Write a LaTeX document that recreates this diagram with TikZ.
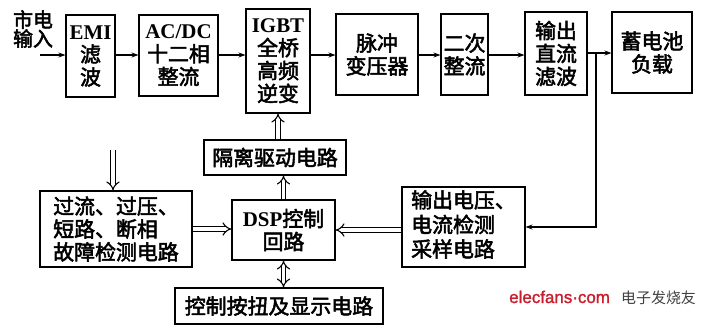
\documentclass[tikz,border=0pt]{standalone}
\usepackage{fontspec}
\setmainfont{Liberation Serif}
\newfontfamily\cjk[FakeBold=2.5]{Noto Sans CJK SC}
\newfontfamily\cjklight{Noto Sans CJK SC}
\newfontfamily\wmfont[FakeBold=1.5]{Liberation Sans}
\newcommand\enw[1]{{\rmfamily\bfseries #1}}
\usetikzlibrary{arrows.meta,calc}
\definecolor{wmred}{RGB}{200,30,45}
\begin{document}
\begin{tikzpicture}[x=1bp,y=-1bp,
  box/.style={draw, line width=1.1pt, align=center, inner sep=0pt,
    font=\cjk\fontsize{21}{23}\selectfont},
  lbl/.style={align=center, inner sep=0pt, font=\cjk\fontsize{20}{19}\selectfont},
  sarrow/.style={line width=1.1pt, -{Stealth[length=7bp,width=5bp]}},
  darrow/.style={draw, double=white, double distance=3.5bp, line width=1.1pt, -{Implies}},
  ddarrow/.style={draw, double=white, double distance=3.5bp, line width=1.1pt, {Implies}-{Implies}}]
\useasboundingbox (0,0) rectangle (713,331);

% top row
\node[lbl] (inlbl) at (33,29) {市电\\输入};
\node[box, minimum width=49bp, minimum height=82bp] (emi) at (90.5,56) {\enw{EMI}\\滤\\波};
\node[box, minimum width=79bp, minimum height=81bp] (acdc) at (178.5,55.5) {\enw{AC/DC}\\十二相\\整流};
\node[box, minimum width=64bp, minimum height=104bp] (igbt) at (278,61) {\enw{IGBT}\\全桥\\高频\\逆变};
\node[box, minimum width=82bp, minimum height=81bp] (pulse) at (377,54.5) {脉冲\\变压器};
\node[box, minimum width=47bp, minimum height=81bp] (sec) at (464.5,54.5) {二次\\整流};
\node[box, minimum width=62bp, minimum height=83bp] (filt) at (556,53.5) {输出\\直流\\滤波};
\node[box, minimum width=80bp, minimum height=81bp] (batt) at (652,52.5) {蓄电池\\负载};

% lower part
\node[box, minimum width=142bp, minimum height=35bp] (iso) at (275,157.5) {隔离驱动电路};
\node[box, minimum width=103bp, minimum height=60bp] (dsp) at (283.5,230) {\enw{DSP}控制\\回路};
\node[box, minimum width=152bp, minimum height=76bp] (fault) at (116,229) {过流、过压、\\短路、断相\hphantom{、}\\故障检测电路};
\node[box, minimum width=123bp, minimum height=80bp] (outs) at (463.5,227) {\begin{tabular}{@{}l@{}}输出电压、\\电流检测\\采样电路\end{tabular}};
\node[box, minimum width=208bp, minimum height=36bp] (ctrl) at (279,306) {控制按扭及显示电路};

% watermark
\node[anchor=base west, inner sep=0pt, text=wmred, font=\wmfont\fontsize{17}{17}\selectfont] (wm) at (509,303) {elecfans·com};
\node[anchor=base west, inner sep=0pt, text=black!75, font=\cjklight\fontsize{15}{15}\selectfont] (wm2) at (621,303) {电子发烧友};

% coordinates
\coordinate (in) at (40,55);
\coordinate (br) at (596,53);
\coordinate (ftop) at (113,150);

% single arrows
\draw[sarrow] (in) -- (in -| emi.west);
\draw[sarrow] (emi.east |- in) -- (acdc.west |- in);
\draw[sarrow] (acdc.east |- in) -- (igbt.west |- in);
\draw[sarrow] (igbt.east |- in) -- (pulse.west |- in);
\draw[sarrow] (pulse.east |- in) -- (sec.west |- in);
\draw[sarrow] (sec.east |- in) -- (filt.west |- in);
\draw[sarrow] (filt.east |- br) -- (batt.west |- br);
\draw[sarrow] (br) |- (outs.east);

% double arrows
\draw[darrow] (iso.north -| igbt.south) -- (igbt.south);
\draw[darrow] (dsp.north) -- (dsp.north |- iso.south);
\draw[ddarrow] (dsp.south) -- (dsp.south |- ctrl.north);
\draw[darrow] (fault.east) -- (fault.east -| dsp.west);
\draw[darrow] (dsp.east -| outs.west) -- (dsp.east);
\draw[darrow] (ftop) -- (ftop |- fault.north);
\end{tikzpicture}
\end{document}
